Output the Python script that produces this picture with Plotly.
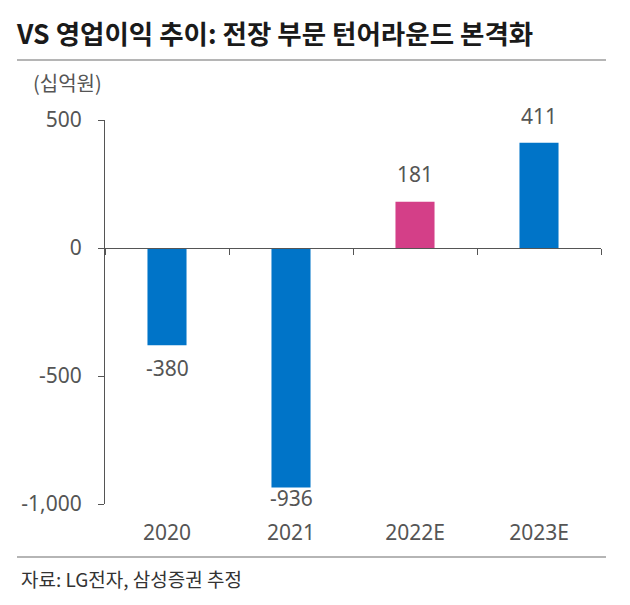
import plotly.graph_objects as go

categories = ["2020", "2021", "2022E", "2023E"]
values = [-380, -936, 181, 411]
bar_colors = ["#0074C8", "#0074C8", "#D43F88", "#0074C8"]
y_tick_vals = [-1000, -500, 0, 500]
y_tick_text = ["-1,000", "-500", "0", "500"]
title_text = "VS 영업이익 추이: 전장 부문 턴어라운드 본격화"
unit_text = "(십억원)"
source_text = "자료: LG전자, 삼성증권 추정"

W, H = 630, 605
L, R, T, B = 105, 601, 120, 504  # plot area in pixels


def px(x):
    return (x - L) / (R - L)


def py(y):
    return (B - y) / (B - T)


KFONT = "Noto Sans CJK KR, Noto Sans, sans-serif"
NFONT = "Noto Sans, Noto Sans CJK KR, sans-serif"
GRAY = "#555555"

fig = go.Figure()
fig.add_trace(go.Bar(
    x=categories, y=values, marker=dict(color=bar_colors, line=dict(width=0)),
    width=0.315, hoverinfo="skip", xaxis="x", yaxis="y",
))
# helper trace for the zero-line axis with boundary ticks
fig.add_trace(go.Scatter(
    x=categories, y=[0] * len(categories), mode="markers",
    marker=dict(opacity=0), hoverinfo="skip", xaxis="x2", yaxis="y",
    showlegend=False,
))

label_shift = [-8, 5, 13, 12]
for i, (v, s) in enumerate(zip(values, label_shift)):
    fig.add_annotation(
        x=i, y=v, xref="x", yref="y", text=("-" if v < 0 else "") + f"{abs(v):,}",
        showarrow=False, yanchor="top" if v < 0 else "bottom", yshift=s,
        borderpad=0, font=dict(family=NFONT, size=21, color=GRAY),
    )

fig.add_annotation(
    x=px(31), y=py(83), xref="paper", yref="paper", text=unit_text,
    showarrow=False, xanchor="left", yanchor="middle",
    font=dict(family=KFONT, size=20, color=GRAY),
)
fig.add_annotation(
    x=px(19), y=py(578), xref="paper", yref="paper", text=source_text,
    showarrow=False, xanchor="left", yanchor="middle",
    font=dict(family=KFONT, size=19, color="#333333"),
)

for yy in (60, 557):
    fig.add_shape(type="line", xref="paper", yref="paper",
                  x0=px(17), x1=px(606), y0=py(yy), y1=py(yy),
                  line=dict(color="#B5B5B5", width=2))

n = len(categories)
fig.update_layout(
    width=W, height=H,
    margin=dict(l=L, r=W - R, t=T, b=H - B, pad=0),
    paper_bgcolor="white", plot_bgcolor="white",
    showlegend=False,
    title=dict(text=f"<b>{title_text}</b>", xref="container", yref="container",
               x=17 / W, y=1 - 35 / H, xanchor="left", yanchor="middle",
               font=dict(family=KFONT, size=26.5, color="#1a1a1a")),
    xaxis=dict(
        type="category", categoryorder="array", categoryarray=categories,
        range=[-0.5, n - 0.5], anchor="y", showline=False, showgrid=False,
        ticks="outside", ticklen=10, tickcolor="rgba(0,0,0,0)",
        tickfont=dict(family=NFONT, size=21, color=GRAY),
        zeroline=False, fixedrange=True,
    ),
    xaxis2=dict(
        type="category", categoryorder="array", categoryarray=categories,
        range=[-0.5, n - 0.5], overlaying="x", anchor="free",
        position=2 / 3, showline=True, linecolor=GRAY, linewidth=1,
        ticks="outside", tickson="boundaries", ticklen=6, tickcolor=GRAY,
        showticklabels=False, showgrid=False, zeroline=False, fixedrange=True,
    ),
    yaxis=dict(
        range=[-1000, 500], domain=[0, 1], tickvals=y_tick_vals, ticktext=y_tick_text,
        showline=True, linecolor=GRAY, linewidth=1, ticks="outside", ticklen=6,
        tickcolor=GRAY, showgrid=False, zeroline=False, ticklabelstandoff=12,
        tickfont=dict(family=NFONT, size=21, color=GRAY), fixedrange=True,
    ),
)

fig.write_html("out.html", config={"displayModeBar": False},
               post_script="document.body.style.margin='0';")
